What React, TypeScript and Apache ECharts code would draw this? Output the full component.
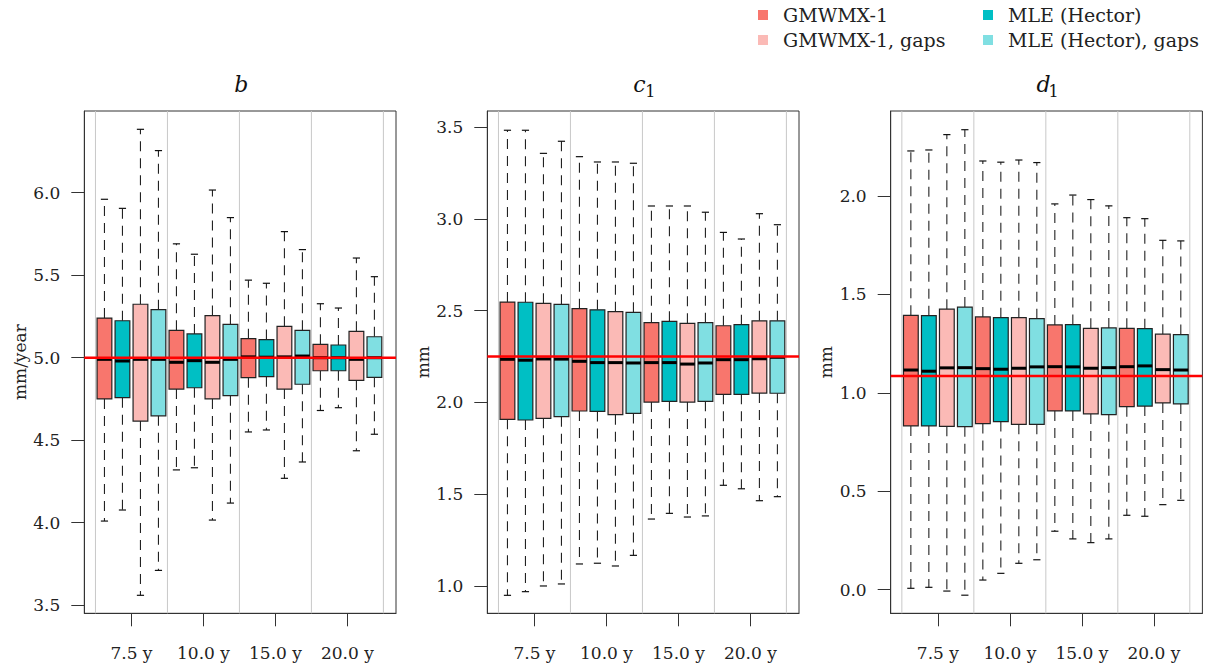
import React, { useEffect, useRef } from "react";
import * as echarts from "echarts";

// ---------- data ----------
const CATEGORIES = ["7.5 y", "10.0 y", "15.0 y", "20.0 y"];
const METHODS = ["GMWMX-1", "MLE (Hector)", "GMWMX-1, gaps", "MLE (Hector), gaps"];
const COLORS = ["#F8766D", "#00BFC4", "#FBBAB6", "#80DFE2"];

// each entry: [lower whisker, Q1, median, Q3, upper whisker] per duration
const B_GMWMX = [[4.01, 4.75, 4.99, 5.24, 5.96], [4.32, 4.81, 4.972, 5.166, 5.69], [4.55, 4.879, 5.005, 5.115, 5.47], [4.68, 4.921, 5.0, 5.081, 5.327]];
const B_MLE = [[4.077, 4.758, 4.98, 5.224, 5.905], [4.333, 4.818, 4.982, 5.144, 5.627], [4.562, 4.885, 5.003, 5.11, 5.451], [4.697, 4.921, 5.0, 5.077, 5.301]];
const B_GMWMX_GAPS = [[3.56, 4.616, 4.99, 5.324, 6.384], [4.016, 4.75, 4.972, 5.255, 6.016], [4.269, 4.81, 5.005, 5.19, 5.764], [4.436, 4.863, 4.99, 5.16, 5.604]];
const B_MLE_GAPS = [[3.711, 4.648, 4.99, 5.291, 6.255], [4.119, 4.77, 4.99, 5.202, 5.849], [4.368, 4.839, 5.01, 5.166, 5.655], [4.536, 4.881, 5.0, 5.127, 5.491]];

const C_GMWMX = [[0.948, 1.908, 2.235, 2.547, 3.484], [1.119, 1.953, 2.224, 2.511, 3.34], [1.364, 2.002, 2.217, 2.435, 3.071], [1.548, 2.044, 2.233, 2.418, 2.927]];
const C_MLE = [[0.968, 1.904, 2.23, 2.546, 3.484], [1.123, 1.951, 2.217, 2.505, 3.311], [1.395, 2.006, 2.217, 2.442, 3.071], [1.529, 2.044, 2.233, 2.424, 2.891]];
const C_GMWMX_GAPS = [[0.999, 1.913, 2.237, 2.54, 3.358], [1.108, 1.933, 2.217, 2.495, 3.311], [1.375, 2.002, 2.209, 2.431, 3.071], [1.464, 2.051, 2.238, 2.445, 3.029]];
const C_MLE_GAPS = [[1.01, 1.922, 2.236, 2.535, 3.424], [1.166, 1.94, 2.215, 2.491, 3.304], [1.381, 2.006, 2.215, 2.435, 3.037], [1.486, 2.05, 2.246, 2.445, 2.969]];

const D_GMWMX = [[0.007, 0.832, 1.116, 1.394, 2.229], [0.049, 0.844, 1.123, 1.386, 2.178], [0.297, 0.908, 1.133, 1.345, 1.96], [0.378, 0.93, 1.133, 1.328, 1.89]];
const D_MLE = [[0.012, 0.832, 1.11, 1.392, 2.234], [0.083, 0.854, 1.12, 1.382, 2.172], [0.258, 0.908, 1.132, 1.347, 2.005], [0.373, 0.933, 1.137, 1.326, 1.885]];
const D_GMWMX_GAPS = [[-0.007, 0.83, 1.127, 1.425, 2.312], [0.134, 0.84, 1.125, 1.382, 2.183], [0.239, 0.893, 1.125, 1.328, 1.982], [0.432, 0.949, 1.118, 1.298, 1.775]];
const D_MLE_GAPS = [[-0.028, 0.828, 1.128, 1.436, 2.337], [0.152, 0.84, 1.132, 1.377, 2.17], [0.258, 0.889, 1.128, 1.33, 1.95], [0.454, 0.944, 1.116, 1.296, 1.772]];

const B_TICKS = [3.5, 4.0, 4.5, 5.0, 5.5, 6.0];
const C_TICKS = [1.0, 1.5, 2.0, 2.5, 3.0, 3.5];
const D_TICKS = [0.0, 0.5, 1.0, 1.5, 2.0];

const TRUE_VALUES = [5.0, 2.25, 1.086];
const PANEL_SYMBOLS = ["b", "c", "d"];
const PANEL_SUBSCRIPTS = ["", "1", "1"];
const Y_NAMES = ["mm/year", "mm", "mm"];

// ---------- layout / style ----------
const FONT = "'DejaVu Serif', serif";
const PANELS = [
  { data: [B_GMWMX, B_MLE, B_GMWMX_GAPS, B_MLE_GAPS], ticks: B_TICKS, min: 3.451, max: 6.495, left: 84.3 },
  { data: [C_GMWMX, C_MLE, C_GMWMX_GAPS, C_MLE_GAPS], ticks: C_TICKS, min: 0.85, max: 3.589, left: 487.3 },
  { data: [D_GMWMX, D_MLE, D_GMWMX_GAPS, D_MLE_GAPS], ticks: D_TICKS, min: -0.12, max: 2.432, left: 890.7 },
];
const GRID_W = 311.7;
const GRID_TOP = 111;
const GRID_H = 502.3;
const X_MIN = -1.12;
const X_MAX = 16.2;
const NG = CATEGORIES.length;
const NM = METHODS.length;

function boxRender(color: string) {
  return (params: any, api: any) => {
    const x = api.value(0);
    const lo = api.coord([x, api.value(1)]);
    const q1 = api.coord([x, api.value(2)]);
    const md = api.coord([x, api.value(3)]);
    const q3 = api.coord([x, api.value(4)]);
    const hi = api.coord([x, api.value(5)]);
    const unit = api.size([1, 0])[0];
    const hw = unit * 0.41;
    const cw = unit * 0.2;
    const cx = lo[0];
    const dash = { stroke: "#222", lineWidth: 1.1, lineDash: [10, 7] };
    const solid = { stroke: "#111", lineWidth: 1.2 };
    return {
      type: "group",
      children: [
        { type: "line", shape: { x1: cx, y1: q3[1], x2: cx, y2: hi[1] }, style: dash },
        { type: "line", shape: { x1: cx, y1: q1[1], x2: cx, y2: lo[1] }, style: dash },
        { type: "line", shape: { x1: cx - cw, y1: hi[1], x2: cx + cw, y2: hi[1] }, style: solid },
        { type: "line", shape: { x1: cx - cw, y1: lo[1], x2: cx + cw, y2: lo[1] }, style: solid },
        {
          type: "rect",
          shape: { x: cx - hw, y: q3[1], width: hw * 2, height: q1[1] - q3[1] },
          style: { fill: color, stroke: "#222", lineWidth: 1.2 },
        },
        { type: "line", shape: { x1: cx - hw, y1: md[1], x2: cx + hw, y2: md[1] }, style: { stroke: "#000", lineWidth: 3 } },
      ],
    };
  };
}

function buildOption() {
  const grid: any[] = [];
  const xAxis: any[] = [];
  const yAxis: any[] = [];
  const series: any[] = [];
  const graphic: any[] = [];
  const groupCenters = CATEGORIES.map((_, g) => g * NM + (NM - 1) / 2);
  const boundaries = [...CATEGORIES.map((_, g) => g * NM - 0.5), NG * NM - 0.5];

  PANELS.forEach((p, i) => {
    grid.push({
      left: p.left, top: GRID_TOP, width: GRID_W, height: GRID_H,
      show: true, borderColor: "#333", borderWidth: 1, backgroundColor: "transparent",
    });
    xAxis.push({
      type: "value", gridIndex: i, min: X_MIN, max: X_MAX,
      axisLine: { show: true, onZero: false, lineStyle: { color: "#333", width: 1 } },
      axisTick: { show: true, customValues: groupCenters, length: 13, lineStyle: { color: "#333" } },
      axisLabel: {
        customValues: groupCenters,
        formatter: (v: number) => CATEGORIES[Math.round((v - (NM - 1) / 2) / NM)] ?? "",
        margin: 31, fontFamily: FONT, fontSize: 17, color: "#222",
      },
      splitLine: { show: false },
    });
    yAxis.push({
      type: "value", gridIndex: i, min: p.min, max: p.max,
      name: Y_NAMES[i], nameLocation: "middle", nameGap: 56, nameRotate: 90,
      nameTextStyle: { fontFamily: FONT, fontSize: 17, color: "#222" },
      axisLine: { show: true, onZero: false, lineStyle: { color: "#333", width: 1 } },
      axisTick: { show: true, customValues: p.ticks, length: 13, lineStyle: { color: "#333" } },
      axisLabel: {
        customValues: p.ticks,
        formatter: (v: number) => v.toFixed(1),
        margin: 24, fontFamily: FONT, fontSize: 17, color: "#222",
      },
      splitLine: { show: false },
    });
    // grey separators between durations
    series.push({
      type: "custom", xAxisIndex: i, yAxisIndex: i, z: 1, silent: true,
      data: boundaries.map((b) => [b, p.min]),
      renderItem: (params: any, api: any) => {
        const cs = params.coordSys;
        const x = api.coord([api.value(0), api.value(1)])[0];
        return { type: "line", shape: { x1: x, y1: cs.y, x2: x, y2: cs.y + cs.height }, style: { stroke: "#C8C8C8", lineWidth: 1 } };
      },
    });
    // boxes
    p.data.forEach((arr, m) => {
      series.push({
        type: "custom", name: METHODS[m], xAxisIndex: i, yAxisIndex: i, z: 2, silent: true,
        itemStyle: { color: COLORS[m] },
        data: arr.map((s, g) => [g * NM + m, ...s]),
        renderItem: boxRender(COLORS[m]),
      });
    });
    // true value line
    series.push({
      type: "custom", xAxisIndex: i, yAxisIndex: i, z: 3, silent: true,
      data: [[0, TRUE_VALUES[i]]],
      renderItem: (params: any, api: any) => {
        const cs = params.coordSys;
        const y = api.coord([api.value(0), api.value(1)])[1];
        return { type: "line", shape: { x1: cs.x, y1: y, x2: cs.x + cs.width, y2: y }, style: { stroke: "#FF0000", lineWidth: 2.4 } };
      },
    });
    // panel title (symbol + optional subscript)
    const sub = PANEL_SUBSCRIPTS[i];
    const tx = p.left + GRID_W / 2 - (sub ? 10 : 6);
    graphic.push({
      type: "text", x: tx, y: 73,
      style: { text: PANEL_SYMBOLS[i], font: `italic 22px ${FONT}`, fill: "#111", align: "left", verticalAlign: "top" },
    });
    if (sub) {
      graphic.push({
        type: "text", x: tx + 12, y: 83,
        style: { text: sub, font: `16px ${FONT}`, fill: "#111", align: "left", verticalAlign: "top" },
      });
    }
  });

  // legend (two columns)
  const legendPos = [
    { sx: 758, tx: 783, y: 15 },
    { sx: 983, tx: 1008, y: 15 },
    { sx: 758, tx: 783, y: 40 },
    { sx: 983, tx: 1008, y: 40 },
  ];
  METHODS.forEach((name, m) => {
    const lp = legendPos[m];
    graphic.push({ type: "rect", shape: { x: lp.sx, y: lp.y - 5, width: 10, height: 10 }, style: { fill: COLORS[m] } });
    graphic.push({
      type: "text", x: lp.tx, y: lp.y,
      style: { text: name, font: `19px ${FONT}`, fill: "#222", verticalAlign: "middle", align: "left" },
    });
  });

  return { animation: false, backgroundColor: "#fff", grid, xAxis, yAxis, series, graphic };
}

export default function App() {
  const ref = useRef<HTMLDivElement>(null);
  useEffect(() => {
    if (!ref.current) return;
    const chart = echarts.init(ref.current, null, { renderer: "svg" });
    chart.setOption(buildOption() as any);
    return () => chart.dispose();
  }, []);
  return <div ref={ref} style={{ position: "absolute", left: 0, top: 0, width: 1207, height: 669 }} />;
}
